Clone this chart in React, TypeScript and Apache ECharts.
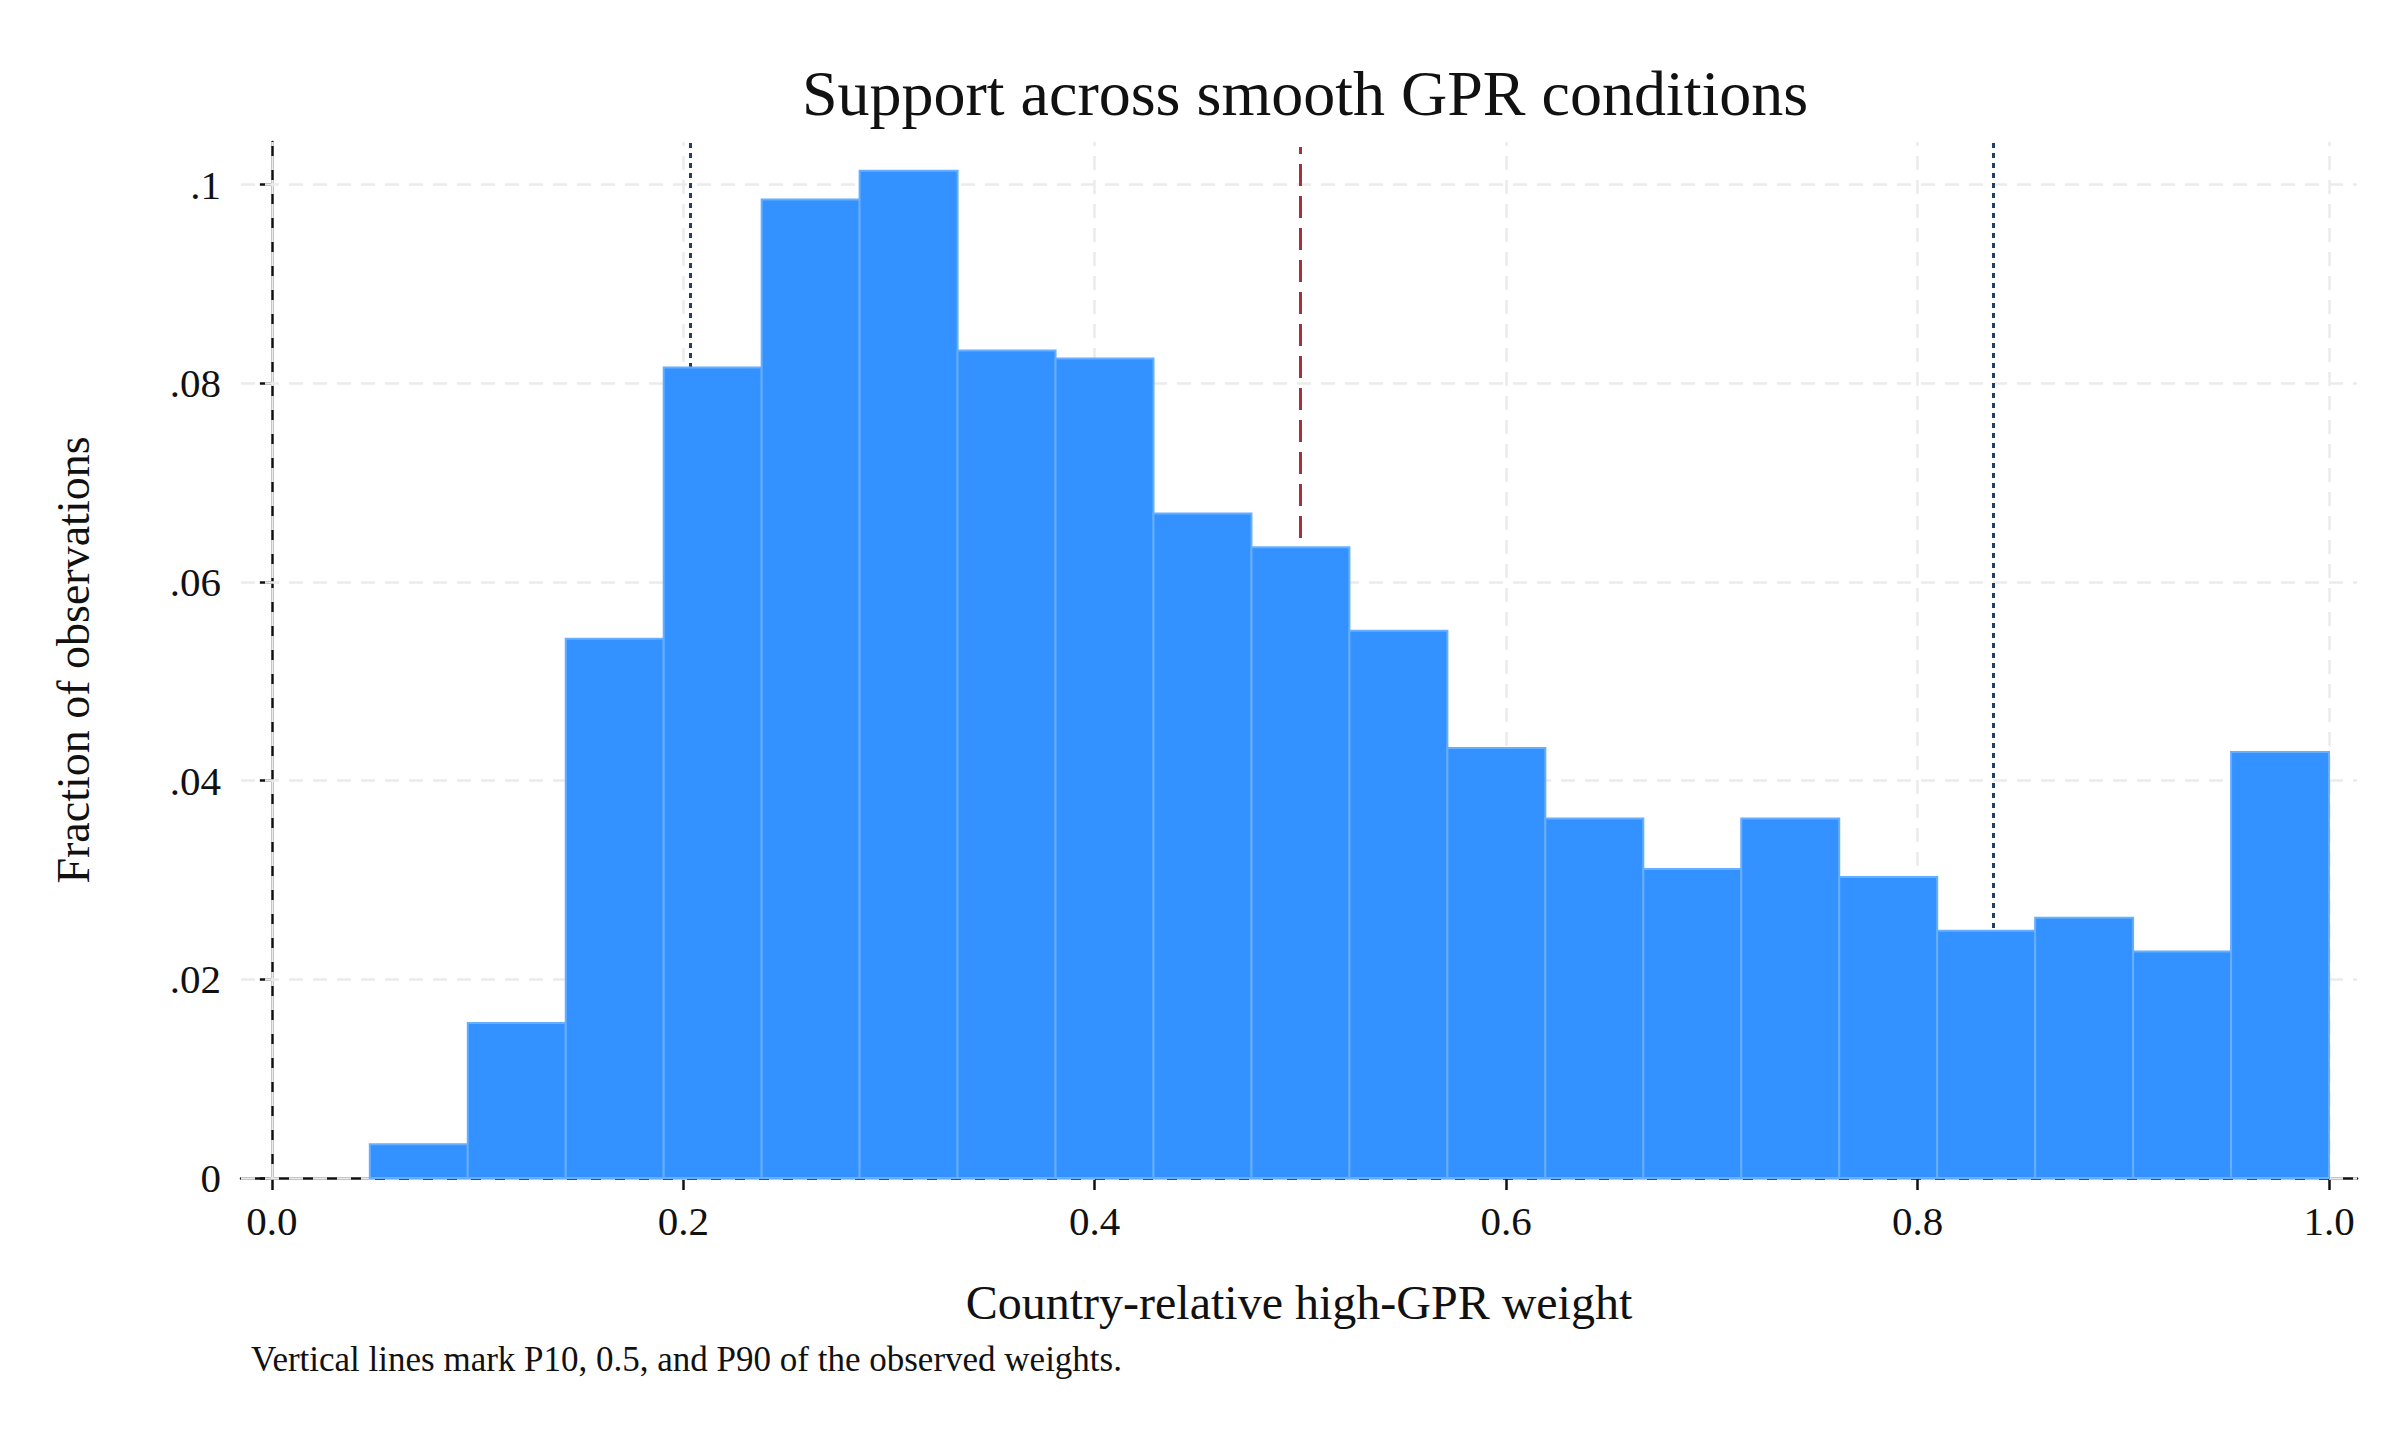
import React, { useEffect, useRef } from "react";
import * as echarts from "echarts";

const binWidth = 1 / 21;
const binStarts = Array.from({ length: 20 }, (_, i) => (i + 1) * binWidth);
const fractions = [0.0034, 0.0156, 0.0543, 0.0816, 0.0985, 0.1014, 0.0833, 0.0825, 0.0669, 0.0635, 0.0551, 0.0433, 0.0362, 0.0311, 0.0362, 0.0303, 0.0249, 0.0262, 0.0228, 0.0429];
const p10 = 0.2034;
const p50 = 0.5;
const p90 = 0.837;
const lineTop = 0.1043;
const xTicks = [0, 0.2, 0.4, 0.6, 0.8, 1.0];
const yTicks = [0, 0.02, 0.04, 0.06, 0.08, 0.1];

const FONT = "'Liberation Serif', 'DejaVu Serif', serif";

export default function App() {
  const ref = useRef<HTMLDivElement>(null);
  useEffect(() => {
    document.body.style.margin = "0";
    const chart = echarts.init(ref.current!, null, { renderer: "svg" });
    const data = binStarts.map((s, i) => [s, s + binWidth, fractions[i]]);
    chart.setOption({
      animation: false,
      backgroundColor: "#fff",
      title: {
        text: "Support across smooth GPR conditions",
        left: 1300, top: 88, textAlign: "center", textVerticalAlign: "middle",
        textStyle: { fontFamily: FONT, fontSize: 64, fontWeight: "normal", color: "#111" },
      },
      graphic: [{
        type: "text", left: 251, top: 1342,
        style: { text: "Vertical lines mark P10, 0.5, and P90 of the observed weights.", fontFamily: FONT, fontSize: 35, fill: "#111" },
      }],
      grid: { left: 241, right: 43, top: 142, bottom: 262 },
      xAxis: {
        type: "value", min: -0.015, max: 1.0136,
        interval: 0.2,
        name: "Country-relative high-GPR weight", nameLocation: "middle", nameGap: 100,
        nameTextStyle: { fontFamily: FONT, fontSize: 48, color: "#111" },
        axisLine: { show: true, onZero: false, lineStyle: { color: "#111", width: 2.5 } },
        axisTick: { show: true, length: 12, lineStyle: { color: "#111", width: 2.5 }, customValues: xTicks },
        axisLabel: { fontFamily: FONT, fontSize: 41, color: "#111", margin: 22, customValues: xTicks, formatter: (v: number) => v.toFixed(1) },
        splitLine: { show: false },
      },
      yAxis: {
        type: "value", min: 0, max: lineTop,
        name: "Fraction of observations", nameLocation: "middle", nameGap: 145,
        nameTextStyle: { fontFamily: FONT, fontSize: 46, color: "#111" },
        axisLine: { show: true, lineStyle: { color: "#111", width: 2.5 } },
        axisTick: { show: true, length: 12, lineStyle: { color: "#111", width: 2.5 }, customValues: yTicks },
        axisLabel: { fontFamily: FONT, fontSize: 41, color: "#111", margin: 20, customValues: yTicks,
          formatter: (v: number) => (v === 0 ? "0" : String(Number(v.toFixed(2))).replace(/^0/, "")) },
        splitLine: { show: false },
      },
      series: [
        {
          type: "line", data: [], z: 1,
          markLine: {
            symbol: "none", silent: true, label: { show: false },
            data: [
              ...xTicks.map((t) => [{ coord: [t, 0], lineStyle: { color: "#ebebeb", type: [14, 10], width: 2.5 } }, { coord: [t, lineTop] }]),
              ...yTicks.map((t) => [{ coord: [-0.015, t], lineStyle: { color: "#ebebeb", type: [14, 10], width: 2.5 } }, { coord: [1.0136, t] }]),
              [{ coord: [p10, 0], lineStyle: { color: "#1f3f66", type: [5, 5], width: 3 } }, { coord: [p10, lineTop] }],
              [{ coord: [p50, 0], lineStyle: { color: "#a3323d", type: [22, 10], width: 3 } }, { coord: [p50, lineTop - 0.0005] }],
              [{ coord: [p90, 0], lineStyle: { color: "#1f3f66", type: [5, 5], width: 3 } }, { coord: [p90, lineTop] }],
            ],
          },
        },
        {
          type: "custom", z: 5, data,
          renderItem: (params: any, api: any) => {
            const a = api.coord([api.value(0), api.value(2)]);
            const b = api.coord([api.value(1), 0]);
            return {
              type: "rect",
              shape: { x: a[0], y: a[1], width: b[0] - a[0], height: b[1] - a[1] },
              style: { fill: "#3392ff", stroke: "#66aeff", lineWidth: 2 },
            };
          },
        },
      ],
    });
    return () => chart.dispose();
  }, []);
  return <div ref={ref} style={{ width: 2400, height: 1440 }} />;
}
